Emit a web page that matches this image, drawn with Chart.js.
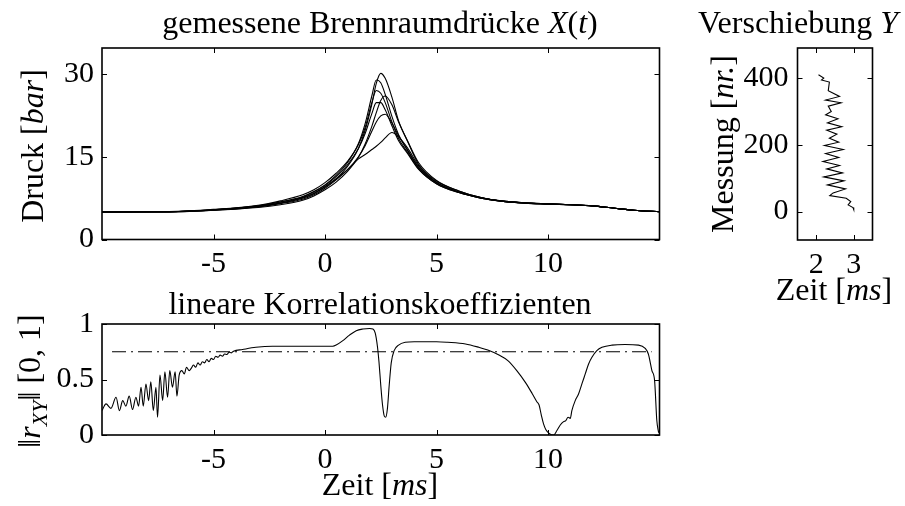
<!DOCTYPE html>
<html>
<head>
<meta charset="utf-8">
<script src="https://cdn.jsdelivr.net/npm/chart.js@4.4.1/dist/chart.umd.min.js"></script>
<style>
  html, body { margin: 0; padding: 0; background: #fff; }
  #blatt { position: relative; width: 905px; height: 506px; overflow: hidden; }
  #blatt canvas { position: absolute; left: 0; top: 0; }
</style>
</head>
<body>
<div id="blatt">
  <canvas id="druck" width="905" height="506"></canvas>
  <canvas id="korr" width="905" height="506"></canvas>
  <canvas id="versch" width="905" height="506"></canvas>
</div>
<script>
// Brennraumdruecke [bar] ueber der Zeit [ms], sieben Messungen
var zeit = [-10, -7, -5, -3, -2, -1, -0.5, 0, 0.5, 1, 1.5, 1.8, 2.1, 2.3, 2.5, 2.7, 3.0, 3.3, 3.7, 4.2, 5, 6, 7, 8, 9, 10, 11, 12, 13, 14, 15];
var druckA = [5, 5.05, 5.35, 6.0, 6.6, 7.5, 8.3, 9.5, 11.0, 13.2, 16.5, 19.8, 24.5, 28.3, 30.1, 29.2, 25.8, 21.5, 17.8, 13.6, 10.6, 8.8, 7.6, 6.95, 6.65, 6.45, 6.3, 6.1, 5.65, 5.25, 5.05];
var druckB = [5, 5.05, 5.4, 6.1, 6.8, 7.8, 8.7, 9.9, 11.6, 13.9, 17.4, 21.0, 26.0, 28.9, 28.4, 26.3, 22.3, 19.0, 16.2, 13.0, 10.3, 8.6, 7.5, 6.9, 6.6, 6.45, 6.3, 6.1, 5.65, 5.25, 5.05];
var druckC = [5, 5.05, 5.45, 6.2, 7.0, 8.1, 9.0, 10.3, 12.0, 14.1, 17.2, 20.3, 24.8, 27.0, 26.5, 24.8, 21.3, 18.3, 15.8, 12.8, 10.1, 8.5, 7.5, 6.9, 6.6, 6.4, 6.3, 6.1, 5.65, 5.25, 5.05];
var druckD = [5, 5.0, 5.3, 5.8, 6.3, 7.1, 7.9, 9.0, 10.4, 12.3, 14.9, 17.3, 20.5, 23.0, 25.2, 26.0, 24.4, 21.3, 17.9, 13.9, 10.7, 8.8, 7.6, 6.95, 6.65, 6.45, 6.3, 6.1, 5.65, 5.25, 5.05];
var druckE = [5, 5.05, 5.4, 6.1, 6.8, 7.7, 8.6, 9.8, 11.4, 13.5, 16.5, 19.2, 22.8, 24.8, 24.8, 23.5, 20.6, 17.9, 15.6, 12.7, 10.1, 8.5, 7.5, 6.9, 6.6, 6.4, 6.3, 6.1, 5.65, 5.25, 5.05];
var druckF = [5, 5.0, 5.3, 5.9, 6.5, 7.3, 8.1, 9.3, 10.8, 12.6, 15.0, 17.0, 19.6, 21.3, 22.4, 22.7, 21.1, 18.8, 16.2, 13.1, 10.3, 8.6, 7.55, 6.9, 6.6, 6.45, 6.3, 6.1, 5.65, 5.25, 5.05];
var druckG = [5, 5.05, 5.35, 6.0, 6.6, 7.6, 8.4, 9.6, 11.0, 12.6, 14.6, 15.4, 16.3, 16.9, 17.6, 18.4, 19.4, 18.6, 16.6, 13.4, 10.4, 8.6, 7.55, 6.9, 6.6, 6.45, 6.3, 6.1, 5.65, 5.25, 5.05];
var druckKurven = [druckA, druckB, druckC, druckD, druckE, druckF, druckG];

// lineare Korrelationskoeffizienten ueber der Zeit [ms]
var korrZeit = [-10.0, -9.82, -9.6, -9.37, -9.22, -9.07, -8.93, -8.78, -8.63, -8.48, -8.36, -8.25, -8.15, -8.03, -7.91, -7.81, -7.70, -7.58, -7.51, -7.40, -7.28, -7.18, -7.06, -6.96, -6.84, -6.72, -6.64, -6.54, -6.42, -6.31, -6.21, -6.09, -6.0, -5.9, -5.8, -5.7, -5.6, -5.5, -5.4, -5.3, -5.2, -5.1, -5.0, -4.9, -4.8, -4.7, -4.6, -4.5, -4.4, -4.3, -4.2, -4.1, -3.7, -3.1, -2.36, -1.61, -1.0, 0.0, 0.35, 0.5, 0.8, 1.1, 1.4, 1.7, 2.0, 2.15, 2.25, 2.35, 2.42, 2.5, 2.58, 2.66, 2.72, 2.8, 2.88, 2.97, 3.1, 3.3, 3.6, 4.0, 5.0, 5.5, 6.3, 6.9, 7.3, 7.8, 8.2, 8.6, 9.0, 9.3, 9.5, 9.6, 9.7, 9.8, 9.9, 10.05, 10.25, 10.4, 10.55, 10.7, 10.8, 10.9, 11.0, 11.07, 11.22, 11.37, 11.52, 11.67, 11.82, 11.97, 12.19, 12.42, 12.87, 13.46, 14.06, 14.36, 14.5, 14.66, 14.78, 14.88, 14.96];
var korrWert = [0.22, 0.28, 0.24, 0.34, 0.22, 0.31, 0.26, 0.35, 0.23, 0.34, 0.26, 0.43, 0.26, 0.46, 0.31, 0.48, 0.22, 0.43, 0.16, 0.54, 0.31, 0.57, 0.34, 0.58, 0.43, 0.57, 0.35, 0.54, 0.58, 0.55, 0.61, 0.58, 0.60, 0.63, 0.61, 0.65, 0.63, 0.66, 0.65, 0.68, 0.66, 0.69, 0.68, 0.71, 0.70, 0.72, 0.71, 0.73, 0.725, 0.745, 0.74, 0.755, 0.77, 0.79, 0.80, 0.80, 0.80, 0.80, 0.80, 0.81, 0.85, 0.90, 0.94, 0.955, 0.96, 0.955, 0.92, 0.80, 0.66, 0.45, 0.27, 0.17, 0.16, 0.24, 0.45, 0.65, 0.76, 0.81, 0.835, 0.84, 0.84, 0.835, 0.82, 0.79, 0.765, 0.72, 0.67, 0.58, 0.47, 0.37, 0.30, 0.27, 0.18, 0.10, 0.05, 0.015, 0.0, 0.04, 0.09, 0.12, 0.13, 0.16, 0.15, 0.22, 0.31, 0.37, 0.46, 0.55, 0.64, 0.70, 0.76, 0.79, 0.81, 0.815, 0.81, 0.78, 0.73, 0.58, 0.49, 0.13, 0.02];
var schwelleZeit = [-9.55, 14.65];
var schwelleWert = [0.75, 0.75];

// Verschiebung Y: Zeit des Maximums [ms] je Messung
var messungNr = [410, 400, 394, 388, 362, 345, 334, 326, 316, 300, 290, 278, 266, 254, 244, 232, 220, 208, 198, 186, 174, 162, 150, 138, 128, 116, 104, 92, 80, 68, 56, 48, 40, 30, 20, 12, 6];
var maxZeit = [2.06, 2.2, 2.14, 2.35, 2.32, 2.62, 2.25, 2.66, 2.32, 2.4, 2.25, 2.58, 2.3, 2.68, 2.28, 2.55, 2.35, 2.6, 2.22, 2.72, 2.25, 2.6, 2.18, 2.62, 2.28, 2.7, 2.2, 2.74, 2.3, 2.78, 2.45, 2.36, 2.8, 2.92, 2.85, 2.98, 3.0];

// Achsenbeschriftungen
var druckTicksX = [-5, 0, 5, 10];
var druckTicksY = [0, 15, 30];
var korrTicksY = [0, 0.5, 1];
var verschTicksX = [2, 3];
var verschTicksY = [0, 200, 400];

var SCHRIFT = '"Liberation Serif", "Times New Roman", serif';
var ACHSE_Y = 100;   // Breite der y-Achse
var ACHSE_X = 60;    // Hoehe der x-Achse

function paare(xs, ys) {
  return xs.map(function (x, i) { return { x: x, y: ys[i] }; });
}

// Text mit gemischten Schriftschnitten (kursiv, tiefgestellt)
function richText(ctx, item) {
  ctx.save();
  ctx.translate(item.x, item.y);
  if (item.rot) ctx.rotate(item.rot);
  var teile = item.teile.map(function (p) {
    var size = p.tief ? 22 : 32;
    var font = (p.kursiv ? 'italic ' : '') + size + 'px ' + SCHRIFT;
    ctx.font = font;
    return { t: p.t, tief: p.tief, font: font, w: ctx.measureText(p.t).width };
  });
  var breite = teile.reduce(function (s, p) { return s + p.w; }, 0);
  var cx = item.align === 'right' ? -breite : -breite / 2;
  ctx.fillStyle = '#000';
  ctx.textBaseline = 'alphabetic';
  teile.forEach(function (p) {
    ctx.font = p.font;
    ctx.fillText(p.t, cx, p.tief ? 7 : 0);
    cx += p.w;
  });
  ctx.restore();
}

// Rahmen mit Innen-Ticks auf allen vier Seiten, dazu die Beschriftungen
var rahmen = {
  id: 'rahmen',
  afterDraw: function (chart, args, opts) {
    var ctx = chart.ctx, a = chart.chartArea;
    var sx = chart.scales.x, sy = chart.scales.y;
    ctx.save();
    ctx.strokeStyle = '#000';
    ctx.lineWidth = 1;
    ctx.beginPath();
    sx.ticks.forEach(function (t) {
      var px = Math.round(sx.getPixelForValue(t.value)) + 0.5;
      ctx.moveTo(px, a.bottom); ctx.lineTo(px, a.bottom - 5);
      ctx.moveTo(px, a.top); ctx.lineTo(px, a.top + 5);
    });
    sy.ticks.forEach(function (t) {
      var py = Math.round(sy.getPixelForValue(t.value)) + 0.5;
      ctx.moveTo(a.left, py); ctx.lineTo(a.left + 5, py);
      ctx.moveTo(a.right, py); ctx.lineTo(a.right - 5, py);
    });
    ctx.stroke();
    ctx.lineWidth = 1.6;
    ctx.strokeRect(a.left, a.top, a.right - a.left, a.bottom - a.top);
    (opts.texte || []).forEach(function (item) { richText(ctx, item); });
    ctx.restore();
  }
};

function achse(min, max, ticks, pad, horizontal) {
  return {
    type: 'linear',
    min: min,
    max: max,
    grid: { display: false, drawTicks: false },
    border: { display: false },
    afterBuildTicks: function (s) { s.ticks = ticks.map(function (v) { return { value: v }; }); },
    afterFit: function (s) { if (horizontal) s.height = ACHSE_X; else s.width = ACHSE_Y; },
    ticks: {
      color: '#000',
      padding: pad,
      maxRotation: 0,
      autoSkip: false,
      font: { family: SCHRIFT, size: 30 },
      callback: function (v) { return String(v); }
    }
  };
}

// Zeichenflaeche: links, oben, rechts, unten in Seitenpixeln
function flaeche(l, o, r, u) {
  return { left: l - ACHSE_Y, top: o, right: 905 - r, bottom: 506 - u - ACHSE_X };
}

function grundoptionen(padding, scales, texte) {
  return {
    responsive: false,
    animation: false,
    events: [],
    layout: { padding: padding },
    scales: scales,
    plugins: {
      legend: { display: false },
      tooltip: { enabled: false },
      rahmen: { texte: texte }
    },
    elements: { point: { radius: 0 } }
  };
}

// oben: gemessene Brennraumdruecke
new Chart(document.getElementById('druck'), {
  type: 'line',
  data: {
    datasets: druckKurven.map(function (k) {
      return {
        data: paare(zeit, k),
        borderColor: '#000',
        borderWidth: 1.1,
        cubicInterpolationMode: 'monotone',
        fill: false
      };
    })
  },
  options: grundoptionen(
    flaeche(102, 48, 659.5, 239.5),
    { x: achse(-10, 15, druckTicksX, 7, true), y: achse(0, 34.7, druckTicksY, 8, false) },
    [
      { x: 380, y: 33, teile: [{ t: 'gemessene Brennraumdrücke ' }, { t: 'X', kursiv: true }, { t: '(' }, { t: 't', kursiv: true }, { t: ')' }] },
      { x: 43, y: 146, rot: -Math.PI / 2, teile: [{ t: 'Druck [' }, { t: 'bar', kursiv: true }, { t: ']' }] }
    ]
  ),
  plugins: [rahmen]
});

// unten: lineare Korrelationskoeffizienten
new Chart(document.getElementById('korr'), {
  type: 'line',
  data: {
    datasets: [
      {
        data: paare(korrZeit, korrWert),
        borderColor: '#000',
        borderWidth: 1.1,
        cubicInterpolationMode: 'monotone',
        fill: false
      },
      {
        data: paare(schwelleZeit, schwelleWert),
        borderColor: '#000',
        borderWidth: 1.1,
        borderDash: [14, 5, 2, 5],
        fill: false
      }
    ]
  },
  options: grundoptionen(
    flaeche(102, 324, 659.5, 435),
    { x: achse(-10, 15, druckTicksX, 7, true), y: achse(0, 1, korrTicksY, 8, false) },
    [
      { x: 380, y: 314, teile: [{ t: 'lineare Korrelationskoeffizienten' }] },
      { x: 380, y: 495, teile: [{ t: 'Zeit [' }, { t: 'ms', kursiv: true }, { t: ']' }] },
      { x: 40, y: 381, rot: -Math.PI / 2, teile: [{ t: '‖' }, { t: 'r', kursiv: true }, { t: 'XY', kursiv: true, tief: true }, { t: '‖ [0, 1]' }] }
    ]
  ),
  plugins: [rahmen]
});

// rechts: Verschiebung Y
new Chart(document.getElementById('versch'), {
  type: 'scatter',
  data: {
    datasets: [{
      data: paare(maxZeit, messungNr),
      showLine: true,
      borderColor: '#000',
      borderWidth: 1.1,
      fill: false
    }]
  },
  options: grundoptionen(
    flaeche(797.5, 48, 872.5, 240),
    { x: achse(1.5, 3.5, verschTicksX, 7, true), y: achse(-85, 490, verschTicksY, 9, false) },
    [
      { x: 898, y: 33, align: 'right', teile: [{ t: 'Verschiebung ' }, { t: 'Y', kursiv: true }] },
      { x: 834, y: 300, teile: [{ t: 'Zeit [' }, { t: 'ms', kursiv: true }, { t: ']' }] },
      { x: 733, y: 144, rot: -Math.PI / 2, teile: [{ t: 'Messung [' }, { t: 'nr.', kursiv: true }, { t: ']' }] }
    ]
  ),
  plugins: [rahmen]
});
</script>
</body>
</html>
